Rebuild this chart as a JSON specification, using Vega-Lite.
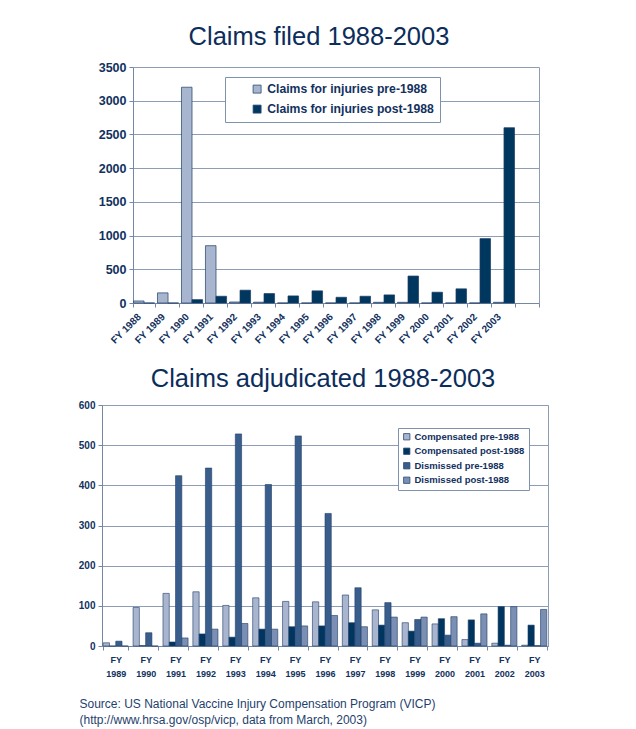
{
  "$schema": "https://vega.github.io/schema/vega-lite/v6.json",
  "padding": {"left": 5, "top": 24, "right": 5, "bottom": 5},
  "background": "white",
  "spacing": 20,
  "resolve": {"scale": {"color": "independent", "xOffset": "independent", "x": "independent", "y": "independent"}, "legend": {"color": "independent"}},
  "config": {
    "font": "Liberation Sans",
    "view": {"stroke": "#8C9DB5", "strokeWidth": 1},
    "axis": {
      "labelFont": "Liberation Sans",
      "labelFontWeight": "bold",
      "labelColor": "#12315E",
      "domainColor": "#7487A6",
      "tickColor": "#7487A6",
      "gridColor": "#8C9DB5",
      "gridOpacity": 1,
      "tickSize": 4
    },
    "legend": {
      "labelFont": "Liberation Sans",
      "labelFontWeight": "bold",
      "labelColor": "#12315E",
      "strokeColor": "#7E92AE",
      "fillColor": "white",
      "symbolType": "square",
      "symbolStrokeColor": "#2A4A75",
      "symbolStrokeWidth": 0.8,
      "symbolOpacity": 1
    }
  },
  "vconcat": [
    {
      "title": {"text": "Claims filed 1988-2003", "fontSize": 25.5, "fontWeight": "normal", "color": "#0B2D5B", "frame": "group", "anchor": "middle", "dx": -1.5, "offset": 11},
      "width": 437,
      "height": 236,
      "view": {"stroke": null},
      "data": {"values": [
        {"year": "FY 1988", "series": "Claims for injuries pre-1988", "value": 30},
        {"year": "FY 1988", "series": "Claims for injuries post-1988", "value": 0},
        {"year": "FY 1989", "series": "Claims for injuries pre-1988", "value": 150},
        {"year": "FY 1989", "series": "Claims for injuries post-1988", "value": 0},
        {"year": "FY 1990", "series": "Claims for injuries pre-1988", "value": 3200},
        {"year": "FY 1990", "series": "Claims for injuries post-1988", "value": 50},
        {"year": "FY 1991", "series": "Claims for injuries pre-1988", "value": 850},
        {"year": "FY 1991", "series": "Claims for injuries post-1988", "value": 100},
        {"year": "FY 1992", "series": "Claims for injuries pre-1988", "value": 15},
        {"year": "FY 1992", "series": "Claims for injuries post-1988", "value": 190},
        {"year": "FY 1993", "series": "Claims for injuries pre-1988", "value": 12},
        {"year": "FY 1993", "series": "Claims for injuries post-1988", "value": 140},
        {"year": "FY 1994", "series": "Claims for injuries pre-1988", "value": 0},
        {"year": "FY 1994", "series": "Claims for injuries post-1988", "value": 105},
        {"year": "FY 1995", "series": "Claims for injuries pre-1988", "value": 0},
        {"year": "FY 1995", "series": "Claims for injuries post-1988", "value": 180},
        {"year": "FY 1996", "series": "Claims for injuries pre-1988", "value": 0},
        {"year": "FY 1996", "series": "Claims for injuries post-1988", "value": 85},
        {"year": "FY 1997", "series": "Claims for injuries pre-1988", "value": 0},
        {"year": "FY 1997", "series": "Claims for injuries post-1988", "value": 100},
        {"year": "FY 1998", "series": "Claims for injuries pre-1988", "value": 10},
        {"year": "FY 1998", "series": "Claims for injuries post-1988", "value": 120},
        {"year": "FY 1999", "series": "Claims for injuries pre-1988", "value": 10},
        {"year": "FY 1999", "series": "Claims for injuries post-1988", "value": 400},
        {"year": "FY 2000", "series": "Claims for injuries pre-1988", "value": 0},
        {"year": "FY 2000", "series": "Claims for injuries post-1988", "value": 160},
        {"year": "FY 2001", "series": "Claims for injuries pre-1988", "value": 0},
        {"year": "FY 2001", "series": "Claims for injuries post-1988", "value": 210},
        {"year": "FY 2002", "series": "Claims for injuries pre-1988", "value": 0},
        {"year": "FY 2002", "series": "Claims for injuries post-1988", "value": 955},
        {"year": "FY 2003", "series": "Claims for injuries pre-1988", "value": 10},
        {"year": "FY 2003", "series": "Claims for injuries post-1988", "value": 2600}
      ]},
      "encoding": {
        "x": {
          "field": "year", "type": "nominal",
          "scale": {"domain": ["FY 1988","FY 1989","FY 1990","FY 1991","FY 1992","FY 1993","FY 1994","FY 1995","FY 1996","FY 1997","FY 1998","FY 1999","FY 2000","FY 2001","FY 2002","FY 2003","pad"], "range": [31, 437], "paddingInner": 0.12, "paddingOuter": 0.02},
          "axis": {"title": null, "labelAngle": -45, "labelAlign": "right", "labelBaseline": "middle", "labelFontSize": 10, "labelPadding": 8, "labelOffset": -5, "labelExpr": "datum.value == 'pad' ? '' : datum.label", "tickBand": "extent", "grid": false}
        }
      },
      "layer": [
        {
          "mark": {"type": "bar", "stroke": "#1E3D66", "strokeWidth": 0.7},
          "encoding": {
            "xOffset": {"field": "series", "scale": {"domain": ["Claims for injuries pre-1988", "Claims for injuries post-1988"]}},
            "y": {
              "field": "value", "type": "quantitative",
              "scale": {"domain": [0, 3500]},
              "axis": {"title": null, "values": [0, 500, 1000, 1500, 2000, 2500, 3000, 3500], "format": "d", "grid": true, "labelFontSize": 12.5, "labelPadding": 3, "offset": -31, "minExtent": 0}
            },
            "color": {
              "field": "series", "type": "nominal",
              "scale": {"domain": ["Claims for injuries pre-1988", "Claims for injuries post-1988"], "range": ["#A8B5CF", "#00375F"]},
              "legend": {"title": null, "orient": "none", "legendX": 123, "legendY": 10, "padding": 6, "symbolSize": 64, "labelFontSize": 12.2, "rowPadding": 7, "symbolOffset": 20, "labelOffset": 4, "labelLimit": 300}
            }
          }
        },
        {
          "mark": {"type": "bar", "opacity": 0},
          "encoding": {
            "y": {"field": "value", "type": "quantitative", "axis": {"orient": "right", "title": null, "labels": false, "ticks": false, "grid": false, "domainColor": "#8C9DB5", "minExtent": 0}}
          }
        }
      ],
      "resolve": {"axis": {"y": "independent"}}
    },
    {
      "title": {"text": "Claims adjudicated 1988-2003", "fontSize": 25.5, "fontWeight": "normal", "color": "#0B2D5B", "frame": "group", "anchor": "middle", "dx": -2, "offset": 8},
      "width": 446,
      "height": 241,
      "data": {"values": [
        {"year": "1989", "series": "Compensated pre-1988", "value": 8},
        {"year": "1989", "series": "Compensated post-1988", "value": 0},
        {"year": "1989", "series": "Dismissed pre-1988", "value": 12},
        {"year": "1989", "series": "Dismissed post-1988", "value": 0},
        {"year": "1990", "series": "Compensated pre-1988", "value": 96},
        {"year": "1990", "series": "Compensated post-1988", "value": 1},
        {"year": "1990", "series": "Dismissed pre-1988", "value": 33},
        {"year": "1990", "series": "Dismissed post-1988", "value": 0},
        {"year": "1991", "series": "Compensated pre-1988", "value": 131},
        {"year": "1991", "series": "Compensated post-1988", "value": 10},
        {"year": "1991", "series": "Dismissed pre-1988", "value": 424},
        {"year": "1991", "series": "Dismissed post-1988", "value": 20},
        {"year": "1992", "series": "Compensated pre-1988", "value": 135},
        {"year": "1992", "series": "Compensated post-1988", "value": 30},
        {"year": "1992", "series": "Dismissed pre-1988", "value": 443},
        {"year": "1992", "series": "Dismissed post-1988", "value": 42},
        {"year": "1993", "series": "Compensated pre-1988", "value": 101},
        {"year": "1993", "series": "Compensated post-1988", "value": 22},
        {"year": "1993", "series": "Dismissed pre-1988", "value": 528},
        {"year": "1993", "series": "Dismissed post-1988", "value": 56},
        {"year": "1994", "series": "Compensated pre-1988", "value": 120},
        {"year": "1994", "series": "Compensated post-1988", "value": 42},
        {"year": "1994", "series": "Dismissed pre-1988", "value": 402},
        {"year": "1994", "series": "Dismissed post-1988", "value": 42},
        {"year": "1995", "series": "Compensated pre-1988", "value": 111},
        {"year": "1995", "series": "Compensated post-1988", "value": 48},
        {"year": "1995", "series": "Dismissed pre-1988", "value": 523},
        {"year": "1995", "series": "Dismissed post-1988", "value": 50},
        {"year": "1996", "series": "Compensated pre-1988", "value": 110},
        {"year": "1996", "series": "Compensated post-1988", "value": 50},
        {"year": "1996", "series": "Dismissed pre-1988", "value": 330},
        {"year": "1996", "series": "Dismissed post-1988", "value": 76},
        {"year": "1997", "series": "Compensated pre-1988", "value": 127},
        {"year": "1997", "series": "Compensated post-1988", "value": 58},
        {"year": "1997", "series": "Dismissed pre-1988", "value": 145},
        {"year": "1997", "series": "Dismissed post-1988", "value": 48},
        {"year": "1998", "series": "Compensated pre-1988", "value": 90},
        {"year": "1998", "series": "Compensated post-1988", "value": 52},
        {"year": "1998", "series": "Dismissed pre-1988", "value": 108},
        {"year": "1998", "series": "Dismissed post-1988", "value": 72},
        {"year": "1999", "series": "Compensated pre-1988", "value": 58},
        {"year": "1999", "series": "Compensated post-1988", "value": 37},
        {"year": "1999", "series": "Dismissed pre-1988", "value": 66},
        {"year": "1999", "series": "Dismissed post-1988", "value": 72},
        {"year": "2000", "series": "Compensated pre-1988", "value": 55},
        {"year": "2000", "series": "Compensated post-1988", "value": 68},
        {"year": "2000", "series": "Dismissed pre-1988", "value": 27},
        {"year": "2000", "series": "Dismissed post-1988", "value": 73},
        {"year": "2001", "series": "Compensated pre-1988", "value": 16},
        {"year": "2001", "series": "Compensated post-1988", "value": 65},
        {"year": "2001", "series": "Dismissed pre-1988", "value": 7},
        {"year": "2001", "series": "Dismissed post-1988", "value": 80},
        {"year": "2002", "series": "Compensated pre-1988", "value": 7},
        {"year": "2002", "series": "Compensated post-1988", "value": 98},
        {"year": "2002", "series": "Dismissed pre-1988", "value": 2},
        {"year": "2002", "series": "Dismissed post-1988", "value": 98},
        {"year": "2003", "series": "Compensated pre-1988", "value": 2},
        {"year": "2003", "series": "Compensated post-1988", "value": 52},
        {"year": "2003", "series": "Dismissed pre-1988", "value": 1},
        {"year": "2003", "series": "Dismissed post-1988", "value": 91}
      ]},
      "mark": {"type": "bar", "stroke": "#1E3D66", "strokeWidth": 0.6},
      "encoding": {
        "x": {
          "field": "year", "type": "nominal",
          "scale": {"paddingInner": 0.16, "paddingOuter": 0.04},
          "axis": {
            "title": ["Source: US National Vaccine Injury Compensation Program (VICP)", "(http://www.hrsa.gov/osp/vicp, data from March, 2003)"],
            "titleFont": "Liberation Sans", "titleFontSize": 12, "titleFontWeight": "normal", "titleColor": "#1F3F6E",
            "titleAnchor": "start", "titleAlign": "left", "titleX": -23, "titlePadding": 20, "titleLineHeight": 16,
            "labelAngle": 0, "labelFontSize": 9, "labelLineHeight": 14, "labelPadding": 5,
            "labelExpr": "datum.label == '' ? '' : ['FY', datum.label]", "tickBand": "extent", "grid": false
          }
        },
        "xOffset": {"field": "series", "scale": {"domain": ["Compensated pre-1988", "Compensated post-1988", "Dismissed pre-1988", "Dismissed post-1988"]}},
        "y": {
          "field": "value", "type": "quantitative",
          "scale": {"domain": [0, 600]},
          "axis": {"title": null, "values": [0, 100, 200, 300, 400, 500, 600], "format": "d", "grid": true, "labelFontSize": 10, "labelPadding": 3, "minExtent": 96}
        },
        "color": {
          "field": "series", "type": "nominal",
          "scale": {"domain": ["Compensated pre-1988", "Compensated post-1988", "Dismissed pre-1988", "Dismissed post-1988"], "range": ["#A9B5CF", "#003560", "#3A5E8C", "#7A8FB3"]},
          "legend": {"title": null, "orient": "none", "legendX": 296, "legendY": 23, "padding": 4, "symbolSize": 40, "labelFontSize": 9.5, "rowPadding": 3.5, "labelOffset": 3}
        }
      }
    }
  ]
}
